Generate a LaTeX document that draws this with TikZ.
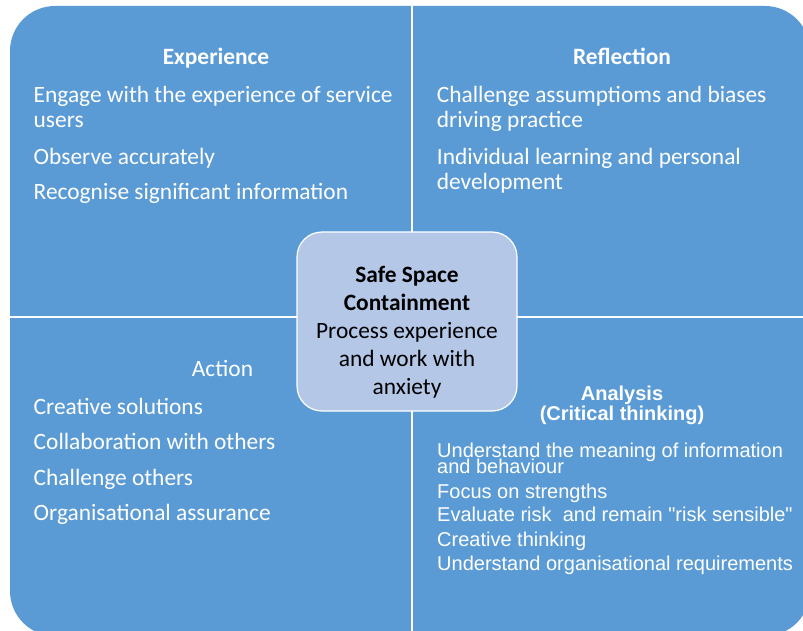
\documentclass[tikz,border=0pt]{standalone}
\usepackage{fontspec}
\setmainfont{Carlito}
\newfontfamily\arialfont{Liberation Sans}
\usetikzlibrary{positioning}
\definecolor{quadblue}{RGB}{91,155,213}
\definecolor{coreblue}{RGB}{180,199,231}
% let wrapped lines sit closer than the glyphs allow
\newcommand\tightlines{\setlength\lineskiplimit{-20pt}}

\begin{document}
\begin{tikzpicture}[x=1pt,y=-1pt,every node/.style={inner sep=0pt},
  head/.style={text=white,font=\fontsize{23.4}{25}\selectfont\bfseries,anchor=base},
  item/.style={text=white,font=\fontsize{23.4}{25}\selectfont,anchor=base west,align=left},
  ahead/.style={text=white,font=\arialfont\bfseries\fontsize{20}{20.7}\selectfont,anchor=base,align=center},
  aitem/.style={text=white,font={\arialfont\fontsize{20}{15.6}\selectfont\tightlines},anchor=base west,align=left},
  core/.style={draw=white,line width=1.2pt,fill=coreblue,rounded corners=25pt,minimum width=220pt,minimum height=179pt},
  coretext/.style={text=black,font=\fontsize{23.4}{28}\selectfont,anchor=base,align=center}]
\useasboundingbox[fill=white] (0,0) rectangle (803,631);
\clip (0,0) rectangle (803,631);
% four quadrants, outer corners rounded
\fill[quadblue,rounded corners=45pt] (10,6) rectangle (810,636);
\draw[white,line width=2pt] (412,6) -- (412,636);
\draw[white,line width=2pt] (10,317) -- (810,317);

% experience (multi-line nodes sit on their last baseline)
\node[head] (exp) at (216,65) {Experience};
\node[item] (e1) at (33.5,127.7) {Engage with the experience of service\\users};
\node[item] (e2) at (33.5,164.3) {Observe accurately};
\node[item] (e3) at (33.5,199.3) {Recognise significant information};

% reflection
\node[head] (refl) at (622,65) {Reflection};
\node[item] (r1) at (436.7,127.7) {Challenge assumptioms and biases\\driving practice};
\node[item] (r2) at (436.7,189.3) {Individual learning and personal\\development};

% action
\node[head,font=\fontsize{23.4}{25}\selectfont] (act) at (222.5,376.7) {Action};
\node[item] (a1) at (33.5,414.3) {Creative solutions};
\node[item] (a2) at (33.5,449.3) {Collaboration with others};
\node[item] (a3) at (33.5,485) {Challenge others};
\node[item] (a4) at (33.5,520.7) {Organisational assurance};

% analysis
\node[ahead] (ana) at (622,420.7) {Analysis\\(Critical thinking)};
\node[aitem] (n1) at (437,473.3) {Understand the meaning of information\\and behaviour};
\node[aitem] (n2) at (437,498.3) {Focus on strengths};
\node[aitem] (n3) at (437,521.7) {Evaluate risk\ \ and remain "risk sensible"};
\node[aitem] (n4) at (437,546.7) {Creative thinking};
\node[aitem] (n5) at (437,570.7) {Understand organisational requirements};

% centre box
\node[core] (core) at (407,321.5) {};
\node[coretext] (corelbl) at (407,394) {\textbf{Safe Space}\\\textbf{Containment}\\Process experience\\and work with\\anxiety};
\end{tikzpicture}
\end{document}
